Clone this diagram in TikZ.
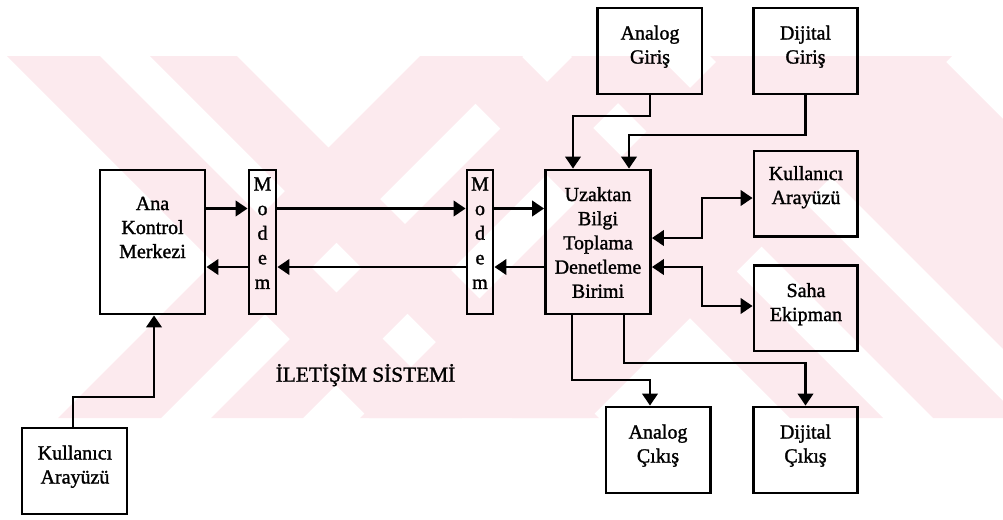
\documentclass[tikz,border=0pt]{standalone}
\usepackage{fontspec}
\setmainfont{Liberation Serif}[FakeBold=1.4]
\usetikzlibrary{arrows.meta,fit}
\definecolor{wm}{RGB}{252,234,238}
\newcommand\mlines[1]{\begin{tabular}[t]{@{}c@{}}#1\end{tabular}}
\newcommand\wmbs[2]{\fill[wm] (#1,56) -- (#2,56) -- ++(362,362) -- ++({#1-#2},0) -- cycle;}
\newcommand\wmfs[2]{\fill[wm] (#1,56) -- (#2,56) -- ++(-362,362) -- ++({#1-#2},0) -- cycle;}
\tikzset{
  box/.style={draw, line width=2.1pt, inner sep=0pt},
  lbl/.style={inner sep=0pt, anchor=base, font=\fontsize{15pt}{18pt}\selectfont},
  mlbl/.style={inner sep=0pt, anchor=base, font=\fontsize{15pt}{18.45pt}\selectfont},
  conn/.style={line width=2.1pt},
  tip/.tip={Triangle[length=9pt,width=11.5pt]},
  arr/.style={conn, -tip},
  darr/.style={conn, tip-tip},
}
\begin{document}
\begin{tikzpicture}[x=0.75pt,y=-0.75pt]
\useasboundingbox (0,0) rectangle (1003,519);
% watermark
\begin{scope}
\clip (0,56) rectangle (1003,418);
\wmbs{7}{100} \wmbs{150}{237}
\wmfs{420}{523} \wmfs{573}{665}
\wmbs{428}{521} \wmbs{571}{658}
\wmfs{722}{952}
\wmbs{710}{940}
\end{scope}
% boxes
\node[box, fit={(100,170) (205,314)}] (ana) {};
\node[box, fit={(249,170) (276,314)}] (m1) {};
\node[box, fit={(467,170) (493,314)}] (m2) {};
\node[box, fit={(545.5,170) (650.5,314)}] (rtu) {};
\node[box, fit={(597.5,8) (702,94)}] (ain) {};
\node[box, fit={(753.5,8) (857.5,94)}] (din) {};
\node[box, fit={(754,151) (857.5,236.5)}] (kur) {};
\node[box, fit={(754,265.5) (857.5,351)}] (saha) {};
\node[box, fit={(606,407) (710.5,493)}] (aout) {};
\node[box, fit={(753.5,407) (857.5,493)}] (dout) {};
\node[box, fit={(22,428) (127,514)}] (kul) {};
% texts
\node[lbl] (anat) at (152.5,210) {\mlines{Ana\\Kontrol\\Merkezi}};
\node[mlbl] (m1t) at (262.5,190.5) {\mlines{M\\o\\d\\e\\m}};
\node[mlbl] (m2t) at (480,190.5) {\mlines{M\\o\\d\\e\\m}};
\node[lbl, font=\fontsize{15pt}{18.15pt}\selectfont] (rtut) at (598,201) {\mlines{Uzaktan\\Bilgi\\Toplama\\Denetleme\\Birimi}};
\node[lbl] (aint) at (650,39.5) {\mlines{Analog\\Giriş}};
\node[lbl] (dint) at (805.5,39.5) {\mlines{Dijital\\Giriş}};
\node[lbl] (kurt) at (806,180) {\mlines{Kullanıcı\\Arayüzü}};
\node[lbl] (sahat) at (806,297) {\mlines{Saha\\Ekipman}};
\node[lbl] (aoutt) at (658,438.5) {\mlines{Analog\\Çıkış}};
\node[lbl] (doutt) at (805.5,438.5) {\mlines{Dijital\\Çıkış}};
\node[lbl] (kult) at (75,459.5) {\mlines{Kullanıcı\\Arayüzü}};
\node[inner sep=0pt, anchor=base, font=\fontsize{16pt}{19pt}\selectfont] (iletisim) at (365.5,381.7) {İLETİŞİM SİSTEMİ};
% helper coordinates
\coordinate (yU) at (0,208.5);
\coordinate (yL) at (0,267);
\coordinate (a1) at (573,116);
\coordinate (d1) at (629,135);
\coordinate (k1) at (702,238);
\coordinate (k2) at (702,198);
\coordinate (s1) at (702,267);
\coordinate (s2) at (702,306);
\coordinate (o1) at (572,380);
\coordinate (o2) at (650,380);
\coordinate (p1) at (624,363);
\coordinate (p2) at (805.5,363);
\coordinate (u1) at (73,397);
\coordinate (u2) at (154,397);
% connectors
\draw[arr] (ana.east |- yU) -- (m1.west |- yU);
\draw[arr] (m1.east |- yU) -- (m2.west |- yU);
\draw[arr] (m2.east |- yU) -- (rtu.west |- yU);
\draw[arr] (rtu.west |- yL) -- (m2.east |- yL);
\draw[arr] (m2.west |- yL) -- (m1.east |- yL);
\draw[arr] (m1.west |- yL) -- (ana.east |- yL);
\draw[arr] (ain.south -| 650,0) |- (a1) -- (a1 |- rtu.north);
\draw[arr] (din.south) |- (d1) -- (d1 |- rtu.north);
\draw[darr] (rtu.east |- k1) -- (k1) -- (k2) -- (kur.west |- k2);
\draw[darr] (rtu.east |- s1) -- (s1) -- (s2) -- (saha.west |- s2);
\draw[arr] (o1 |- rtu.south) -- (o1) -- (o2) -- (o2 |- aout.north);
\draw[arr] (p1 |- rtu.south) -- (p1) -- (p2) -- (p2 |- dout.north);
\draw[arr] (u1 |- kul.north) -- (u1) -- (u2) -- (u2 |- ana.south);
\end{tikzpicture}
\end{document}
